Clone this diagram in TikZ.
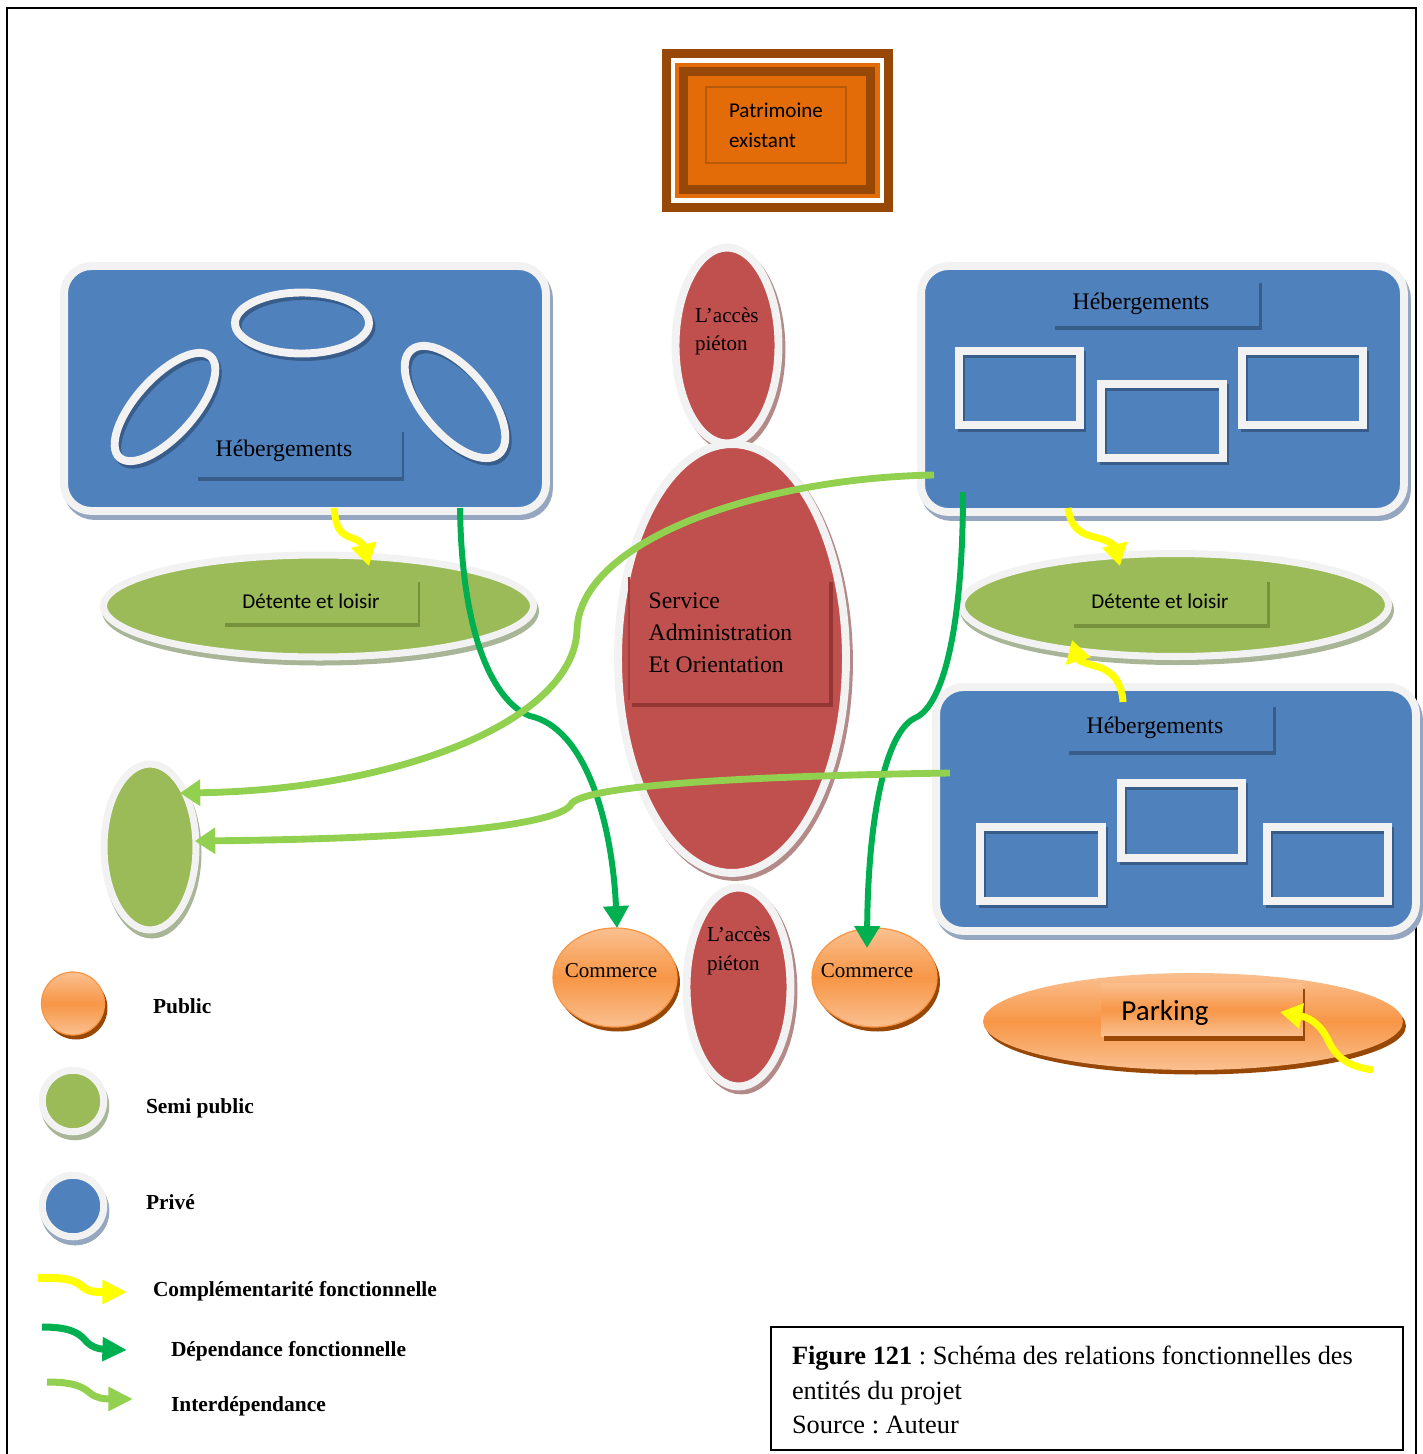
\documentclass[tikz,border=0pt]{standalone}
\usepackage{fontspec}
\setmainfont{Liberation Serif}
\newfontfamily\calibri{Carlito}
\usetikzlibrary{arrows.meta,shapes.geometric}
\frenchspacing
\definecolor{hblue}{HTML}{4F81BD}
\definecolor{hbluedark}{HTML}{385D8A}
\definecolor{boxshadow}{HTML}{95A7C0}
\definecolor{lightrim}{HTML}{F2F2F2}
\definecolor{sgreen}{HTML}{9BBB59}
\definecolor{sgreendark}{HTML}{76923C}
\definecolor{greenshadow}{HTML}{A9B597}
\definecolor{sred}{HTML}{C0504D}
\definecolor{sreddark}{HTML}{943634}
\definecolor{redshadow}{HTML}{B48A89}
\definecolor{porange}{HTML}{F79646}
\definecolor{porangelight}{HTML}{FAC090}
\definecolor{porangedark}{HTML}{984806}
\definecolor{patorange}{HTML}{E36C09}
\definecolor{patbrown}{HTML}{984806}
\definecolor{patline}{HTML}{B55A0A}
\definecolor{cyellow}{HTML}{FFFF00}
\definecolor{dgreen}{HTML}{00B050}
\definecolor{lgreen}{HTML}{92D050}
\begin{document}
\begin{tikzpicture}[x=0.02cm,y=-0.02cm,
  every node/.style={inner sep=0pt, outer sep=0pt},
  privbox/.style={rectangle, rounded corners=0.55cm, fill=hblue, draw=lightrim, line width=4.5pt,
    preaction={draw=boxshadow, fill=boxshadow, line width=4.5pt, transform canvas={shift={(0.06cm,-0.1cm)}}}},
  unitring/.style={draw=lightrim, line width=4.5pt,
    preaction={draw=hbluedark, line width=4.5pt, transform canvas={shift={(0.05cm,-0.07cm)}}}},
  greenell/.style={ellipse, fill=sgreen, draw=lightrim, line width=4pt,
    preaction={draw=greenshadow, fill=greenshadow, line width=4pt, transform canvas={shift={(0.04cm,-0.1cm)}}}},
  redell/.style={ellipse, fill=sred, draw=lightrim, line width=4.5pt,
    preaction={draw=redshadow, fill=redshadow, line width=4.5pt, transform canvas={shift={(0.06cm,-0.08cm)}}}},
  pubell/.style={ellipse, draw=porange, line width=0.7pt, top color=porangelight, bottom color=porangelight, middle color=porange,
    preaction={fill=porangedark, transform canvas={shift={(0.06cm,-0.09cm)}}}},
  hlabel/.style={font=\fontsize{13.5}{16}\selectfont},
  clabel/.style={font=\calibri\fontsize{12}{14}\selectfont},
  legtext/.style={anchor=west, font=\bfseries\fontsize{12.2}{14}\selectfont},
  yarrow/.style={draw=cyellow, line width=4pt, -{Triangle[length=12.5pt,width=14pt]}},
  dgarrow/.style={draw=dgreen, line width=3.4pt, -{Triangle[length=12.5pt,width=14pt]}},
  lgarrow/.style={draw=lgreen, line width=3.9pt, -{Triangle[length=11.5pt,width=14.5pt]}},
  legarrow/.style={line width=4.5pt, -{Triangle[length=14pt,width=13pt]}}
]
\useasboundingbox (0,0) rectangle (1423,1454);
% frame
\draw[line width=1.3pt] (7,1454) -- (7,8) -- (1416,8) -- (1416,1454);

% Patrimoine existant
\fill[patbrown] (662,49) rectangle (893,212);
\fill[white] (671,58) rectangle (884,203);
\fill[patorange] (675,63) rectangle (880,198);
\fill[patbrown] (679,67) rectangle (875,194);
\fill[patorange] (688,76) rectangle (866,185);
\node[draw=patline, line width=0.8pt, minimum width=2.8cm, minimum height=1.52cm, align=left,
  font=\calibri\fontsize{12}{17}\selectfont] (pat) at (776,125) {Patrimoine\\existant};

% Private boxes
\node[privbox, minimum width=9.64cm, minimum height=4.9cm] (hebA) at (305,388.5) {};
\node[privbox, minimum width=9.66cm, minimum height=4.92cm] (hebB) at (1162.5,389) {};
\node[privbox, minimum width=9.6cm, minimum height=4.88cm] (hebC) at (1176,809) {};

% units in A
\node[unitring, ellipse, minimum width=2.68cm, minimum height=1.22cm] (a1) at (302,323) {};
\node[unitring, ellipse, minimum width=2.72cm, minimum height=1.16cm, rotate=48] (a2) at (165,407) {};
\node[unitring, ellipse, minimum width=2.72cm, minimum height=1.3cm, rotate=-50] (a3) at (455,402) {};
% units in B
\node[unitring, rectangle, minimum width=2.42cm, minimum height=1.48cm] (b1) at (1019.5,388) {};
\node[unitring, rectangle, minimum width=2.44cm, minimum height=1.48cm] (b2) at (1162,421) {};
\node[unitring, rectangle, minimum width=2.42cm, minimum height=1.48cm] (b3) at (1302.5,388) {};
% units in C
\node[unitring, rectangle, minimum width=2.44cm, minimum height=1.48cm] (c1) at (1041,864) {};
\node[unitring, rectangle, minimum width=2.42cm, minimum height=1.5cm] (c2) at (1181.5,820.5) {};
\node[unitring, rectangle, minimum width=2.42cm, minimum height=1.48cm] (c3) at (1327.5,864) {};

% labels of private boxes
\draw[hbluedark, line width=2.6pt] (198,479) -- (404,479);
\draw[hbluedark, line width=1.7pt] (403,432) -- (403,481);
\node[hlabel] (labA) at (284,451) {Hébergements};
\draw[hbluedark, line width=2.6pt] (1055,328) -- (1262,328);
\draw[hbluedark, line width=1.7pt] (1260,283) -- (1260,330);
\node[hlabel] (labB) at (1141,304) {Hébergements};
\draw[hbluedark, line width=2.6pt] (1069,753) -- (1276,753);
\draw[hbluedark, line width=1.7pt] (1274,707) -- (1274,755);
\node[hlabel] (labC) at (1155,728) {Hébergements};

% Semi public
\node[greenell, minimum width=8.6cm, minimum height=2.04cm] (detL) at (318.5,606) {};
\node[greenell, minimum width=8.54cm, minimum height=2.06cm] (detR) at (1175,605) {};
\node[greenell, minimum width=1.84cm, minimum height=3.32cm] (semi) at (150,847) {};
\draw[sgreendark, line width=2.6pt] (225,625) -- (420,625);
\draw[sgreendark, line width=1.7pt] (419,582) -- (419,627);
\node[clabel] (labDL) at (311,601) {Détente et loisir};
\draw[sgreendark, line width=2.6pt] (1074,626) -- (1270,626);
\draw[sgreendark, line width=1.7pt] (1268,582) -- (1268,628);
\node[clabel] (labDR) at (1160,601) {Détente et loisir};

% Red
\node[redell, minimum width=2.06cm, minimum height=3.92cm] (accT) at (727,345.5) {};
\node[redell, minimum width=4.56cm, minimum height=8.58cm] (serv) at (732,658.5) {};
\node[redell, minimum width=2.08cm, minimum height=3.98cm] (accB) at (738.5,987) {};
\draw[sreddark!70!sred, line width=1pt] (629,577) -- (629,700);
\draw[sreddark, line width=2.8pt] (632,705) -- (833,705);
\draw[sreddark, line width=1.8pt] (831,582) -- (831,707);
\node[align=left, font=\fontsize{13.5}{18.1}\selectfont] (labS) at (720.5,633) {Service\\Administration\\Et Orientation};
\node[anchor=west, align=left, font=\fontsize{12}{15.9}\selectfont] (labAT) at (695,331) {L’accès\\piéton};
\node[anchor=west, align=left, font=\fontsize{12}{16.4}\selectfont] (labAB) at (707,951) {L’accès\\piéton};

% Public
\node[pubell, minimum width=2.48cm, minimum height=1.98cm] (comL) at (615,977.5) {};
\node[pubell, minimum width=2.5cm, minimum height=1.98cm] (comR) at (874.5,977.5) {};
\node[font=\fontsize{12}{14}\selectfont] (labCL) at (611,971) {Commerce};
\node[font=\fontsize{12}{14}\selectfont] (labCR) at (867,971) {Commerce};
\node[pubell, draw=none, minimum width=8.4cm, minimum height=1.94cm] (park) at (1193,1021.5) {};
\node[rectangle, minimum width=4.04cm, minimum height=1.06cm, top color=porangelight, bottom color=porangelight, middle color=porange] (parkbox) at (1202,1009.5) {};
\draw[porangedark, line width=2.4pt] (1104,1038.5) -- (1305,1038.5);
\draw[porangedark, line width=1.6pt] (1304,989) -- (1304,1040);
\node[font=\calibri\fontsize{16.5}{18}\selectfont] (labP) at (1165,1013) {Parking};

% Arrows
\coordinate (y1s) at (334,508); \coordinate (y1e) at (369,566);
\draw[yarrow] (y1s) .. controls (336,528) and (340,534) .. (352,538) .. controls (360,540) and (364,546) .. (y1e);
\coordinate (y2s) at (1068,508); \coordinate (y2e) at (1120,566);
\draw[yarrow] (y2s) .. controls (1071,528) and (1080,534) .. (1098,538) .. controls (1110,541) and (1115,546) .. (y2e);
\coordinate (y3s) at (1123,702); \coordinate (y3e) at (1072,640);
\draw[yarrow] (y3s) .. controls (1122,682) and (1112,670) .. (1095,666) .. controls (1084,663) and (1078,660) .. (y3e);
\coordinate (y4s) at (1373,1070); \coordinate (y4e) at (1280,1012);
\draw[yarrow] (y4s) .. controls (1345,1066) and (1335,1055) .. (1328,1040) .. controls (1322,1027) and (1312,1018) .. (y4e);

\coordinate (g1s) at (460,508); \coordinate (g1e) at (617,928);
\draw[dgarrow] (g1s) .. controls (462,650) and (500,705) .. (530,716) .. controls (585,728) and (612,820) .. (g1e);
\coordinate (g2s) at (963,492); \coordinate (g2e) at (867,948);
\draw[dgarrow] (g2s) .. controls (963,620) and (945,705) .. (915,718) .. controls (885,732) and (868,820) .. (g2e);

\coordinate (l1s) at (934,475); \coordinate (l1e) at (180,793);
\draw[lgarrow] (l1s) .. controls (760,478) and (580,540) .. (577,630) .. controls (574,720) and (400,790) .. (l1e);
\coordinate (l2s) at (950,773); \coordinate (l2e) at (195,841);
\draw[lgarrow] (l2s) .. controls (750,776) and (590,785) .. (572,803) .. controls (565,820) and (480,838) .. (l2e);

% Legend
\node[pubell, minimum size=1.26cm] (legpub) at (73,1003.5) {};
\node[greenell, minimum size=1.23cm] (legsemi) at (73,1101) {};
\node[greenell, fill=hblue, preaction={draw=boxshadow, fill=boxshadow, line width=4pt, transform canvas={shift={(0.04cm,-0.1cm)}}}, minimum size=1.23cm] (legpriv) at (73,1206) {};
\node[legtext] (lpub) at (153,1006) {Public};
\node[legtext] (lsemi) at (146,1108) {Semi public};
\node[legtext] (lpriv) at (146,1202) {Privé};
\node[legtext] (lcomp) at (153,1291) {Complémentarité fonctionnelle};
\node[legtext] (ldep) at (171,1351) {Dépendance fonctionnelle};
\node[legtext] (linter) at (171,1406) {Interdépendance};
\coordinate (ly1) at (38,1278); \coordinate (ly2) at (127,1292);
\draw[legarrow, draw=cyellow] (ly1) .. controls (65,1277) and (75,1280) .. (83,1287) .. controls (89,1292) and (95,1292) .. (ly2);
\coordinate (lg1) at (42,1327); \coordinate (lg2) at (127,1350);
\draw[legarrow, draw=dgreen, line width=4pt] (lg1) .. controls (68,1327) and (78,1332) .. (85,1340) .. controls (91,1347) and (98,1349) .. (lg2);
\coordinate (ll1) at (47,1382); \coordinate (ll2) at (133,1399);
\draw[legarrow, draw=lgreen, line width=4pt] (ll1) .. controls (72,1382) and (82,1386) .. (90,1393) .. controls (96,1398) and (104,1399) .. (ll2);

% Caption
\node[draw=black, line width=1.1pt, minimum width=12.64cm, minimum height=2.46cm] (capbox) at (1087,1388.5) {};
\node[anchor=west, align=left, font=\fontsize{15}{19.8}\selectfont] (cap) at (792,1390) {\textbf{Figure 121} : Schéma des relations fonctionnelles des\\entités du projet\\Source : Auteur};
\end{tikzpicture}
\end{document}
